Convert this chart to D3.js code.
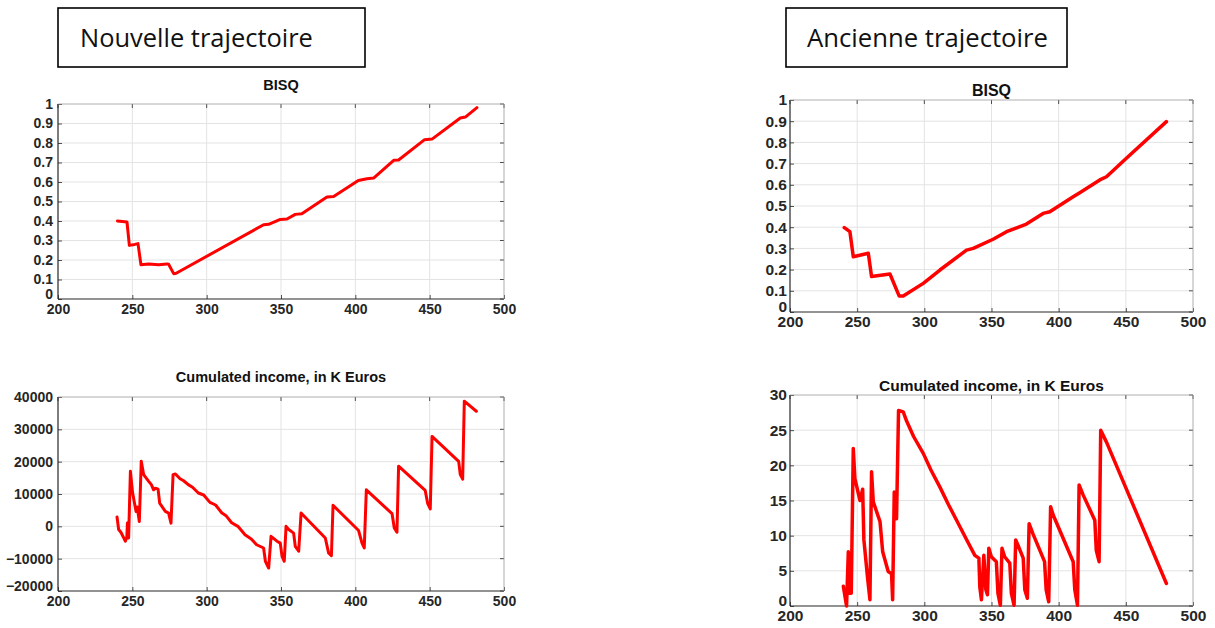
<!DOCTYPE html>
<html>
<head>
<meta charset="utf-8">
<script src="https://cdn.jsdelivr.net/npm/d3@7"></script>
<style>
  html, body { margin: 0; padding: 0; background: #ffffff; }
  svg { display: block; }
</style>
</head>
<body>
<svg id="chart" width="1215" height="628"></svg>
<script>
// ---------------- DATA ----------------
const panelLabels = ["Nouvelle trajectoire", "Ancienne trajectoire"];
const bisqTitle = "BISQ";
const incomeTitle = "Cumulated income, in K Euros";

const xTicks = [200, 250, 300, 350, 400, 450, 500];
const bisqTicks = [0, 0.1, 0.2, 0.3, 0.4, 0.5, 0.6, 0.7, 0.8, 0.9, 1];
const newIncomeTicks = [-20000, -10000, 0, 10000, 20000, 30000, 40000];
const oldIncomeTicks = [0, 5, 10, 15, 20, 25, 30];

// Nouvelle trajectoire - BISQ
const newBisqX = [240, 246.4, 248, 251.6, 253.8, 255.8, 261, 267.7, 273.3, 274.4, 277.8, 279.5,
  338.3, 341.7, 349.5, 354, 359.6, 364, 380.9, 385.4, 402, 407.8, 412.3, 425.8, 429.1,
  446.6, 451.6, 470.6, 474, 481.8];
const newBisqY = [0.40, 0.395, 0.275, 0.28, 0.284, 0.176, 0.18, 0.176, 0.18, 0.178, 0.13, 0.132,
  0.381, 0.383, 0.408, 0.41, 0.434, 0.437, 0.523, 0.526, 0.608, 0.617, 0.62, 0.711, 0.713,
  0.817, 0.82, 0.928, 0.933, 0.981];

// Nouvelle trajectoire - Cumulated income
const newIncomeX = [239.7, 240.8, 242.4, 245.3, 246.3, 246.7, 247.5, 248.7, 250.2, 252.5, 253.3, 254.7,
  256, 257.6, 261, 262.8, 264.3, 265.5, 267.3, 268.4, 272.2, 274.4, 276, 277.4, 279,
  282.1, 284.5, 287.6, 290.5, 294.4, 298, 302.2, 306, 310.1, 313, 316.8, 321, 325.8, 330, 333.6, 338.3, 339.5, 341.7,
  343.3, 347.3, 349.5, 350.7, 352.2, 353.4, 355.2, 358.5, 359.6, 361.9,
  363.5, 379.8, 382, 383.9, 385, 402.2, 404.5, 406, 407.4, 424.7, 426.2, 428,
  429.1, 447, 448.7, 450.4, 451.6, 469.5, 470.6, 472.2, 473.3, 481.4];
const newIncomeY = [2900, -1000, -1900, -4600, -3300, 1000, -3600, 17000, 10300, 4600, 6000, 1500,
  20100, 16000, 13900, 12900, 11300, 11800, 11500, 7200, 4600, 4100, 1000, 16000, 16200,
  14700, 14100, 12900, 12100, 10300, 9700, 7400, 6600, 4200, 3300, 1100, 0, -2600, -3900, -5700, -6700, -10800, -12900,
  -3100, -4600, -5200, -9300, -10800, 0, -1000, -2100, -6200, -7700,
  4100, -3600, -8200, -9100, 6500, -1300, -5200, -6700, 11300, 3900, -500, -1800,
  18600, 11100, 7000, 5400, 27800, 20100, 16000, 14600, 38700, 35600];

// Ancienne trajectoire - BISQ
const oldBisqX = [240.4, 244.6, 247.1, 258.3, 260.7, 274.4, 281.3, 284.3, 299.2, 311.6, 331.4, 336.4,
  351.2, 361.2, 376, 388.4, 393.4, 410.8, 415.7, 430.6, 435.6, 450.4, 480.2];
const oldBisqY = [0.398, 0.379, 0.261, 0.277, 0.167, 0.179, 0.075, 0.075, 0.135, 0.198, 0.292, 0.30,
  0.343, 0.379, 0.415, 0.465, 0.473, 0.544, 0.563, 0.623, 0.638, 0.725, 0.898];

// Ancienne trajectoire - Cumulated income
const oldIncomeX = [239.7, 242.1, 243.4, 244.6, 245.6, 247.1, 248.3, 252.1, 254.1, 255, 257.8, 259.5,
  260.7, 262, 267, 269, 273.1, 275.6, 276.4, 277.6, 279.3, 280.8, 284.3, 286.8, 292, 299.2,
  305, 311.6, 318, 324, 331, 337.6, 340.6, 341.3, 342.5, 344.3, 345.8, 347, 348, 349.9, 353.6, 354.8,
  356.6, 357.8, 359.8, 363.6, 364.8, 366.8, 368, 369.8, 373.6, 374.8, 376.7, 378, 380.8,
  389.5, 390.7, 392.6, 394, 396, 410.8, 412, 414, 415.2, 418.2, 426.9, 428, 430.1, 431.3,
  435.6, 480.2];
const oldIncomeY = [2.8, 0, 7.7, 1.8, 1.8, 22.4, 18.1, 15.0, 16.6, 9.4, 3.9, 0.9,
  19.1, 14.8, 12, 7.7, 4.9, 4.6, 0.9, 16.2, 12.4, 27.8, 27.6, 26.3, 24.1, 21.7,
  19.3, 16.9, 14.4, 12.2, 9.6, 7.2, 6.8, 2.7, 0.9, 7.2, 2.3, 1.6, 8.2, 7.0, 6.3, 1.8,
  0.1, 8.2, 7.0, 6.1, 1.8, 0.1, 9.4, 8.6, 6.8, 2.3, 1.1, 11.7, 10.3,
  6.3, 2.3, 0.6, 14.1, 12.9, 6.3, 2.3, 0.1, 17.2, 15.8, 12.2, 7.9, 6.3, 25.0,
  23.3, 3.2];

// ---------------- DRAWING ----------------
const svg = d3.select("#chart");
svg.append("rect").attr("width", 1215).attr("height", 628).attr("fill", "#ffffff");

const axisColor = "#262626";
const gridColor = "#e3e3e3";
const fontFam = "'Liberation Sans', Arial, Helvetica, sans-serif";

function labelBox(x0, y0, w, h, text, tx, baseline, targetW) {
  svg.append("rect").attr("x", x0).attr("y", y0).attr("width", w).attr("height", h)
    .attr("fill", "#fff").attr("stroke", "#000").attr("stroke-width", 1.6);
  const t = svg.append("text").attr("x", tx).attr("y", baseline)
    .attr("font-family", "'Open Sans', 'Noto Sans', sans-serif")
    .attr("font-size", 24).attr("fill", "#111").text(text);
  const len = t.node().getComputedTextLength();
  t.attr("font-size", 24 * targetW / len);
}

labelBox(58, 8, 307, 59, panelLabels[0], 80, 47, 233);
labelBox(786, 8, 281, 59, panelLabels[1], 807, 47, 241);

function panel(o) {
  const x = d3.scaleLinear().domain([200, 500]).range([o.left, o.right]);
  const y = d3.scaleLinear().domain(o.yDomain).range([o.bottom, o.top]);
  const g = svg.append("g");

  // grid
  g.append("g").selectAll("line").data(o.xTicks.slice(1, -1)).join("line")
    .attr("x1", d => x(d)).attr("x2", d => x(d)).attr("y1", o.top).attr("y2", o.bottom)
    .attr("stroke", gridColor).attr("stroke-width", 1);
  g.append("g").selectAll("line").data(o.yTicks.slice(1, -1)).join("line")
    .attr("y1", d => y(d)).attr("y2", d => y(d)).attr("x1", o.left).attr("x2", o.right)
    .attr("stroke", gridColor).attr("stroke-width", 1);

  // axes via d3 axis
  const xAxis = d3.axisBottom(x).tickValues(o.xTicks).tickSize(-4).tickPadding(o.xPad)
    .tickFormat(d3.format("d"));
  const yAxis = d3.axisLeft(y).tickValues(o.yTicks).tickSize(-4).tickPadding(o.yPad)
    .tickFormat(o.yFormat);
  const gx = g.append("g").attr("transform", `translate(0,${o.bottom})`).call(xAxis);
  const gy = g.append("g").attr("transform", `translate(${o.left},0)`).call(yAxis);
  [gx, gy].forEach(a => {
    a.select(".domain").remove();
    a.selectAll("line").attr("stroke", axisColor).attr("stroke-width", 0.8);
    a.selectAll("text").attr("fill", axisColor).attr("font-family", fontFam)
      .attr("font-weight", "bold");
  });
  gx.selectAll("text").attr("font-size", o.xFont);
  gy.selectAll("text").attr("font-size", o.yFont);
  // lowest y label sits slightly higher so it does not collide with the x labels
  gy.selectAll(".tick").filter(d => d === o.yDomain[0]).select("text").attr("dy", "-0.05em");

  // top/right tick marks (MATLAB box)
  g.append("g").selectAll("line").data(o.xTicks).join("line")
    .attr("x1", d => x(d)).attr("x2", d => x(d)).attr("y1", o.top).attr("y2", o.top + 4)
    .attr("stroke", axisColor).attr("stroke-width", 0.8);
  g.append("g").selectAll("line").data(o.yTicks).join("line")
    .attr("y1", d => y(d)).attr("y2", d => y(d)).attr("x1", o.right).attr("x2", o.right - 4)
    .attr("stroke", axisColor).attr("stroke-width", 0.8);

  // frame
  g.append("line").attr("x1", o.left).attr("x2", o.right).attr("y1", o.bottom).attr("y2", o.bottom)
    .attr("stroke", axisColor).attr("stroke-width", 1.2);
  g.append("line").attr("x1", o.left).attr("x2", o.left).attr("y1", o.top).attr("y2", o.bottom)
    .attr("stroke", axisColor).attr("stroke-width", 1.2);
  g.append("line").attr("x1", o.left).attr("x2", o.right).attr("y1", o.top).attr("y2", o.top)
    .attr("stroke", "#9a9a9a").attr("stroke-width", 0.8);
  g.append("line").attr("x1", o.right).attr("x2", o.right).attr("y1", o.top).attr("y2", o.bottom)
    .attr("stroke", "#9a9a9a").attr("stroke-width", 0.8);

  // data line
  const pts = o.xs.map((v, i) => [v, o.ys[i]]);
  g.append("path").datum(pts)
    .attr("d", d3.line().x(d => x(d[0])).y(d => y(d[1])))
    .attr("fill", "none").attr("stroke", "#ff0000").attr("stroke-width", o.lw)
    .attr("stroke-linejoin", "round").attr("stroke-linecap", "round");

  // title
  g.append("text").attr("x", (o.left + o.right) / 2).attr("y", o.titleY)
    .attr("text-anchor", "middle").attr("font-family", fontFam).attr("font-weight", "bold")
    .attr("font-size", o.titleFont).attr("fill", "#111").text(o.title);
}

panel({ left: 58, right: 504, top: 104, bottom: 299, yDomain: [0, 1],
  xTicks: xTicks, yTicks: bisqTicks, yFormat: d3.format("~g"),
  xs: newBisqX, ys: newBisqY, lw: 3, xFont: 14, yFont: 14, xPad: 5, yPad: 5,
  title: bisqTitle, titleY: 90, titleFont: 14.5 });

panel({ left: 58, right: 504, top: 397, bottom: 591, yDomain: [-20000, 40000],
  xTicks: xTicks, yTicks: newIncomeTicks, yFormat: d3.format("d"),
  xs: newIncomeX, ys: newIncomeY, lw: 3, xFont: 14, yFont: 14, xPad: 5, yPad: 5,
  title: incomeTitle, titleY: 382, titleFont: 14.5 });

panel({ left: 790, right: 1193, top: 100, bottom: 312, yDomain: [0, 1],
  xTicks: xTicks, yTicks: bisqTicks, yFormat: d3.format("~g"),
  xs: oldBisqX, ys: oldBisqY, lw: 3.5, xFont: 15.5, yFont: 15.5, xPad: 4, yPad: 3,
  title: bisqTitle, titleY: 96, titleFont: 16 });

panel({ left: 790, right: 1193, top: 395, bottom: 606, yDomain: [0, 30],
  xTicks: xTicks, yTicks: oldIncomeTicks, yFormat: d3.format("d"),
  xs: oldIncomeX, ys: oldIncomeY, lw: 3.5, xFont: 15.5, yFont: 15.5, xPad: 4, yPad: 3,
  title: incomeTitle, titleY: 391, titleFont: 15.5 });
</script>
</body>
</html>
